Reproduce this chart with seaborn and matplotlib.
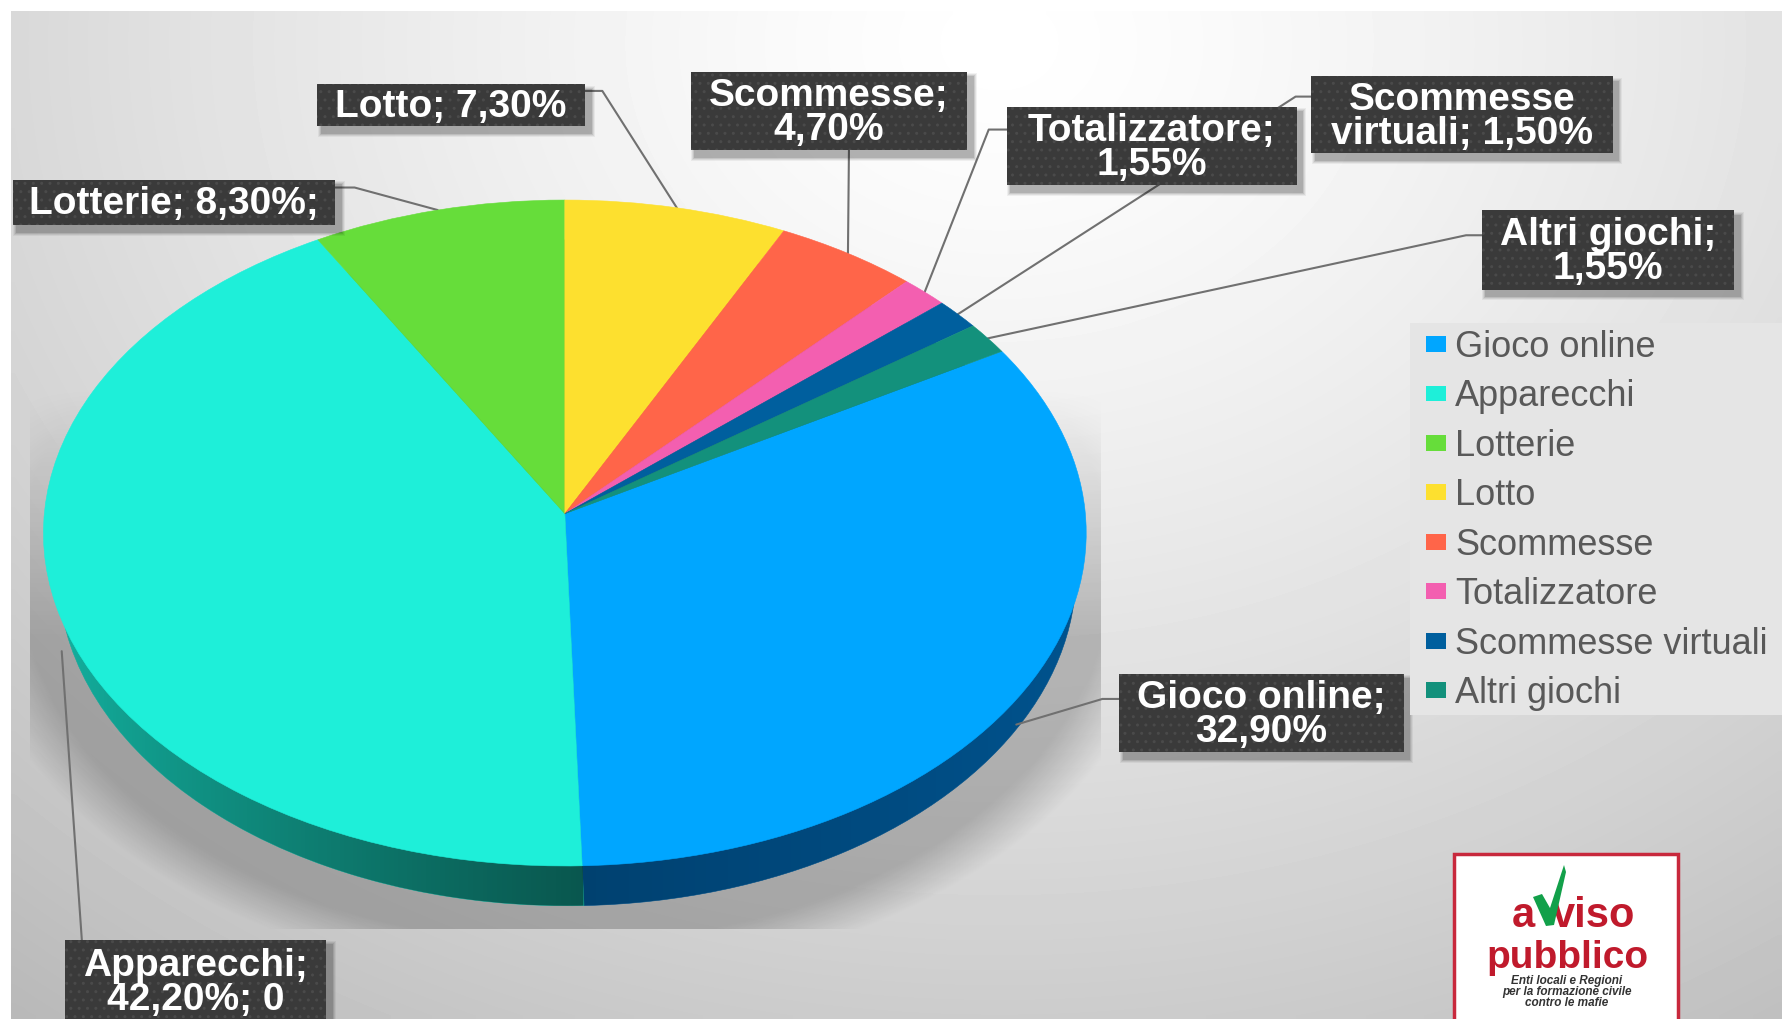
import numpy as np
import matplotlib
matplotlib.use("Agg")
import matplotlib.pyplot as plt
import matplotlib.transforms as mtransforms
from matplotlib.patches import Rectangle, Polygon, Patch, Wedge
import seaborn as sns

categories = ["Gioco online", "Apparecchi", "Lotterie", "Lotto", "Scommesse",
              "Totalizzatore", "Scommesse virtuali", "Altri giochi"]
shares = [32.90, 42.20, 8.30, 7.30, 4.70, 1.55, 1.50, 1.55]
top_colors = ["#00a6ff", "#1eefd9", "#66dd3a", "#fde02f", "#ff6549",
              "#f35fb0", "#005f9e", "#13917c"]
rim_colors = ["#005490", "#13ad9c", "#45a028", "#b8a020", "#b84530",
              "#b04080", "#004070", "#0c6656"]
data_labels = ["Gioco online;\n32,90%", "Apparecchi;\n42,20%; 0", "Lotterie; 8,30%;",
               "Lotto; 7,30%", "Scommesse;\n4,70%", "Totalizzatore;\n1,55%",
               "Scommesse\nvirtuali; 1,50%", "Altri giochi;\n1,55%"]

W, H = 1782, 1019
U = W / 1568  # layout grid unit

sns.set_theme(style="white")
plt.rcParams["font.family"] = ["Liberation Sans", "DejaVu Sans"]
plt.rcParams["hatch.linewidth"] = 1.0


class TiltProjection(mtransforms.Transform):
    """Perspective view of the unit disc, giving pixel coordinates."""
    input_dims = output_dims = 2
    is_separable = False
    has_inverse = False

    def __init__(self, cx, cy, rx, ry, p):
        super().__init__()
        self.cx, self.cy, self.rx, self.ry, self.p = cx, cy, rx, ry, p

    def transform_non_affine(self, values):
        values = np.asarray(values)
        x, y = values[:, 0], values[:, 1]
        w = 1 + self.p * y
        return np.column_stack([self.cx + self.rx * x / w, self.cy - self.ry * y / w])


fig = plt.figure(figsize=(W / 100, H / 100), dpi=100, facecolor="white")
ax = fig.add_axes([0, 0, 1, 1])

# backdrop: soft radial grey centred near the top of the panel
gx, gy = np.meshgrid(np.linspace(11, W, 240), np.linspace(11, H, 140))
dist = np.sqrt(((gx - 1000) / 1250) ** 2 + ((gy - 40) / 1000) ** 2)
tone = np.clip(1.0 - 0.205 * np.clip(dist, 0, 1.25) ** 1.3, 0, 1)
ax.imshow(tone, cmap="gray", vmin=0, vmax=1, extent=(11, W, H, 11), aspect="auto",
          interpolation="bilinear", zorder=0)

top_proj = TiltProjection(497 * U, 452 * U, 458 * U, 292 * U, 0.058)
rim_proj = TiltProjection(499 * U, 487 * U, 447 * U, 292 * U, 0.058)

# soft drop shadow under the disc, cut off by its rectangular frame
sx, sy = np.meshgrid(np.linspace(26 * U, 968 * U, 400), np.linspace(340 * U, 817 * U, 260))
r = np.sqrt(((sx - 497 * U) / (468 * U)) ** 2 + ((sy - 500 * U) / (320 * U)) ** 2)
shadow = np.zeros(r.shape + (4,))
shadow[..., 3] = 0.21 * np.clip((1.14 - r) / 0.11, 0, 1) * np.clip((sy - 340 * U) / (220 * U), 0, 1)
ax.imshow(shadow, extent=(26 * U, 968 * U, 817 * U, 340 * U), aspect="auto",
          interpolation="bilinear", zorder=1)

# the first slice starts so that the remaining ones close at twelve o'clock
start = 90 - sum(shares[3:]) * 3.6
rim_palette = sns.color_palette(rim_colors)
top_palette = sns.color_palette(top_colors)

rim_wedges, _ = ax.pie(shares, colors=rim_palette, startangle=start, counterclock=False)
for w in rim_wedges:
    w.set_transform(rim_proj + ax.transData)
    w.set_zorder(2)
    w.set_edgecolor(w.get_facecolor())
    w.set_linewidth(0.4)

# the side wall darkens towards the front, more strongly on its left part
dx, dy = np.meshgrid(np.linspace(0, W, 1782), [0, 1])
front = np.clip(1 - np.abs(dx - 513 * U) / (450 * U), 0, 1) ** 0.8
dark = np.zeros(dx.shape + (4,))
dark[..., 3] = np.where(dx < 513 * U, 0.50, 0.22) * front
dark_img = ax.imshow(dark, extent=(0, W, H, 0), aspect="auto", interpolation="nearest", zorder=3)
dark_img.set_clip_path(Wedge((0, 0), 1, 0, 360, transform=rim_proj + ax.transData))

top_wedges, _ = ax.pie(shares, colors=top_palette, startangle=start, counterclock=False)
mid_points = []
for w in top_wedges:
    w.set_transform(top_proj + ax.transData)
    w.set_zorder(6)
    w.set_edgecolor(w.get_facecolor())
    w.set_linewidth(0.4)
    mid = np.deg2rad((w.theta1 + w.theta2) / 2)
    mid_points.append(top_proj.transform(np.array([[np.cos(mid), np.sin(mid)]]))[0])

# label frames as (left, top, right, bottom) and the leader bends, in grid units
frames = [(985, 593, 1235, 662), (57, 827, 287, 900), (11, 158, 295, 198), (279, 74, 515, 111),
          (608, 63, 851, 132), (886, 94, 1141, 163), (1154, 67, 1419, 135), (1304, 185, 1526, 255)]
bends = [[(985, 615), (970, 615)], [(72, 827)], [(295, 165), (312, 165)], [(515, 80), (530, 80)],
         [(747, 132)], [(886, 114), (870, 114)], [(1154, 85), (1140, 85)], [(1304, 207), (1290, 207)]]
end_shift = [(-15, 40), (5, 40), (0, 0), (0, 0), (0, 0), (0, 0), (0, 0), (0, 0)]

for label, frame, bend, mp, sh in zip(data_labels, frames, bends, mid_points, end_shift):
    pts = np.array(bend) * U
    pts = np.vstack([pts, [mp[0] + sh[0] * U, mp[1] + sh[1] * U]])
    ax.plot(pts[:, 0], pts[:, 1], color="#707070", lw=1.5, zorder=5, solid_capstyle="round")
    l, t, r_, b = [v * U for v in frame]
    for k, a in zip((9, 7, 5, 3), (0.05, 0.07, 0.09, 0.12)):
        ax.add_patch(Rectangle((l + 5 - k / 2, t + 6 - k / 2), r_ - l + k, b - t + k,
                               facecolor="black", edgecolor="none", alpha=a, zorder=7))
    ax.add_patch(Rectangle((l, t), r_ - l, b - t, facecolor="#3a3a3a", edgecolor="#4a4a4a",
                           hatch="..", lw=0, zorder=8))
    ax.text((l + r_) / 2, (t + b) / 2 + 2, label, color="white", fontweight="bold", fontsize=28,
            ha="center", va="center", linespacing=0.93, zorder=9)

# legend panel
ax.add_patch(Rectangle((1410, 323), W - 1410, 392, facecolor="#e5e5e5", edgecolor="none", zorder=7))
handles = [Patch(facecolor=c, edgecolor="none") for c in top_palette]
fs_px = 26 * 100 / 72
leg = ax.legend(handles, categories, loc="upper left", bbox_to_anchor=(1426, 330),
                bbox_transform=ax.transData, frameon=False, fontsize=26, labelcolor="#595959",
                borderpad=0, borderaxespad=0, handlelength=20 / fs_px, handleheight=0.30,
                handletextpad=9 / fs_px, labelspacing=0.40)
leg.set_zorder(8)

# association mark, bottom right
ax.add_patch(Rectangle((1454, 854), 224, 175, facecolor="white", edgecolor="#c8283c", lw=2.5, zorder=7))
ax.text(1523, 927, "a", color="#c01a2c", fontweight="bold", fontsize=30, ha="center", va="baseline", zorder=8)
ax.text(1594, 927, "viso", color="#c01a2c", fontweight="bold", fontsize=30, ha="center", va="baseline", zorder=8)
ax.text(1567, 968, "pubblico", color="#c01a2c", fontweight="bold", fontsize=28, ha="center", va="baseline", zorder=8)
ax.add_patch(Polygon([(1533, 897), (1542, 894), (1550, 908), (1564, 865), (1566, 872), (1554, 925), (1546, 926)],
                     facecolor="#12a04a", edgecolor="none", zorder=9))
for yy, line in zip((981, 992, 1003), ("Enti locali e Regioni", "per la formazione civile", "contro le mafie")):
    ax.text(1567, yy, line, color="#333333", fontweight="bold", style="italic", fontsize=8.5,
            ha="center", va="center", zorder=8)

ax.set_aspect("auto")
ax.set_xlim(0, W)
ax.set_ylim(H, 0)
ax.axis("off")
fig.savefig("out.png", dpi=100)
